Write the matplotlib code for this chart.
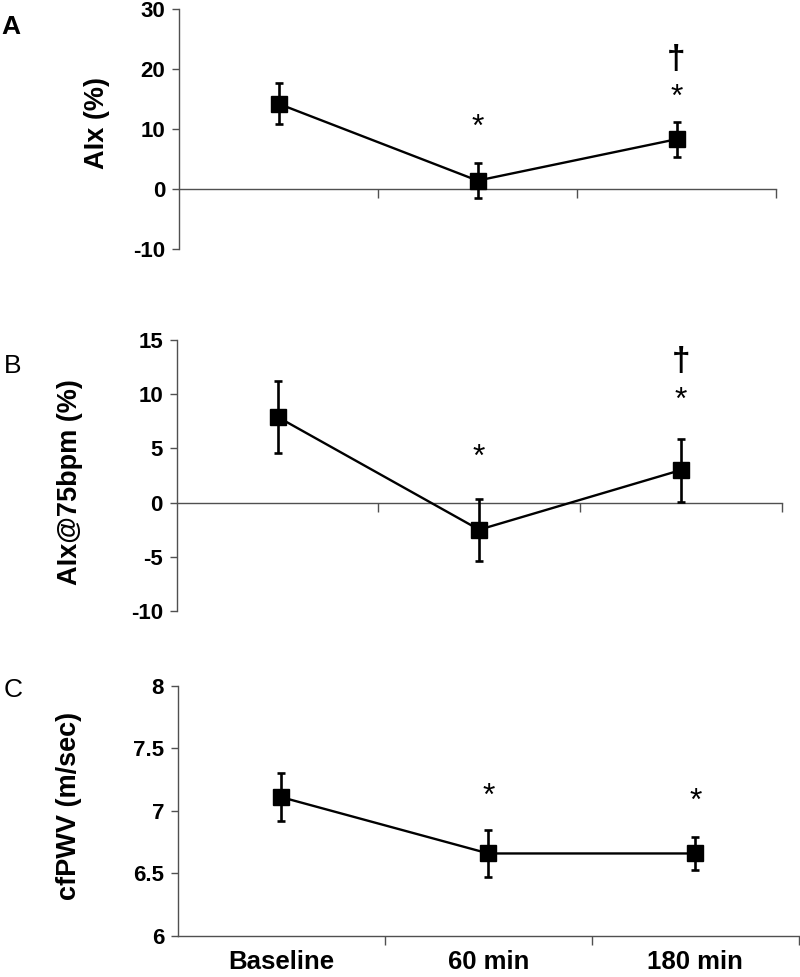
import matplotlib.pyplot as plt
import numpy as np

plt.rcParams['font.family'] = ['Liberation Sans', 'DejaVu Sans']

groups = ['Baseline', '60 min', '180 min']

aix_mean = [14.2, 1.4, 8.3]
aix_err = [3.4, 2.9, 2.9]

aix75_mean = [7.9, -2.5, 3.0]
aix75_err = [3.3, 2.85, 2.9]

pwv_mean = [7.11, 6.66, 6.66]
pwv_err = [0.19, 0.19, 0.13]

# significance marks: (group index, y, symbol)
aix_sig = [(1, 11.7, '*'), (2, 16.7, '*'), (2, 22.6, '\u2020')]
aix75_sig = [(1, 4.9, '*'), (2, 10.2, '*'), (2, 13.6, '\u2020')]
pwv_sig = [(1, 7.18, '*'), (2, 7.14, '*')]

axcol = '#505050'
W, H = 800, 977

fig = plt.figure(figsize=(8, 9.77), dpi=100)


def panel(rect, mean, err, sig, ylim, yticks, ylabel, label_xy, letter, letter_xy, zero_axis):
    ax = fig.add_axes(rect)
    x = np.arange(len(mean))
    ax.errorbar(x, mean, yerr=err, fmt='-s', color='black', ms=11.5, lw=1.7,
                elinewidth=1.9, capsize=3, capthick=1.9, zorder=3, clip_on=False)
    for i, y, s in sig:
        if s == '*':
            fs = 23
            ax.annotate(s, (i, y), xytext=(0, -0.27 * fs), textcoords='offset points',
                        ha='center', va='center', fontsize=fs, zorder=4)
        else:
            fs = 24
            ax.annotate(s, (i, y), xytext=(0, -0.19 * fs), textcoords='offset points',
                        ha='center', va='center', fontsize=fs, fontweight='heavy', zorder=4)
    ax.set_xlim(-0.5, 2.5)
    ax.set_ylim(*ylim)
    ax.set_yticks(yticks)
    ax.set_yticklabels([('%g' % t) for t in yticks], fontsize=16, fontweight='bold')
    ax.spines['top'].set_visible(False)
    ax.spines['right'].set_visible(False)
    for sp in ['left', 'bottom']:
        ax.spines[sp].set_color(axcol)
        ax.spines[sp].set_linewidth(1.0)
    if zero_axis:
        ax.spines['bottom'].set_position(('data', 0))
    ax.set_xticks([0.5, 1.5, 2.5])
    ax.set_xticklabels([])
    ax.tick_params(axis='x', which='major', direction='out', length=6.5, width=1.0, color=axcol)
    ax.tick_params(axis='y', direction='out', length=5, width=1.0, color=axcol, pad=5)
    fig.text(label_xy[0] / W, 1 - label_xy[1] / H, ylabel, rotation=90, fontsize=19.5,
             fontweight='bold', ha='center', va='center')
    fig.text(letter_xy[0] / W, 1 - letter_xy[1] / H, letter, fontsize=19,
             fontweight='bold' if letter == 'A' else 'normal', ha='left', va='center')
    return ax


panel([0.224, 0.7451, 0.746, 0.2457], aix_mean, aix_err, aix_sig, (-10, 30),
      [-10, 0, 10, 20, 30], 'AIx (%)', (97, 123), 'A', (1, 27), True)
panel([0.221, 0.3746, 0.756, 0.2774], aix75_mean, aix75_err, aix75_sig, (-10, 15),
      [-10, -5, 0, 5, 10, 15], 'AIx@75bpm (%)', (70, 482), 'B', (4, 366), True)
axc = panel([0.2225, 0.0420, 0.776, 0.2559], pwv_mean, pwv_err, pwv_sig, (6, 8),
            [6, 6.5, 7, 7.5, 8], 'cfPWV (m/sec)', (69, 806), 'C', (4, 690), False)

axc.set_xticks([0, 1, 2], minor=True)
axc.set_xticklabels(groups, minor=True, fontsize=18.5, fontweight='bold')
axc.tick_params(axis='x', which='minor', length=0, pad=10)

fig.savefig('out.png', dpi=100)
